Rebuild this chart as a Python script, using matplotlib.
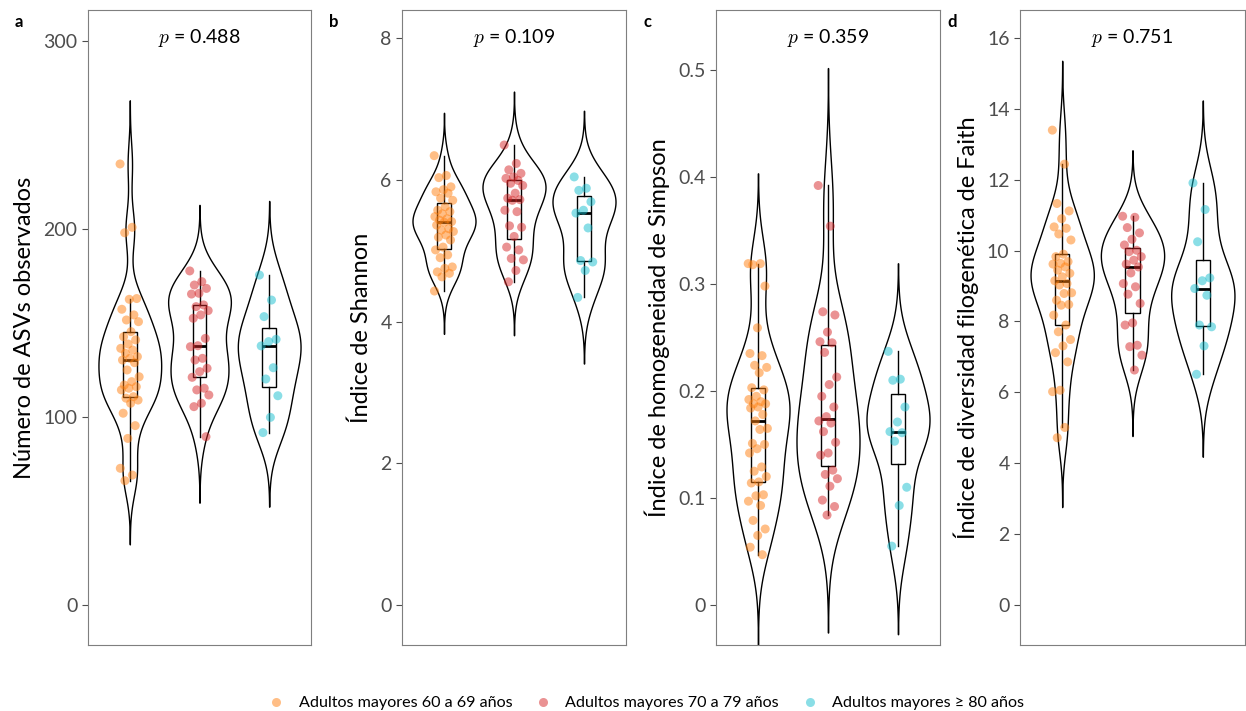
"""Diversidad alfa por grupo de edad: violín + caja + puntos (4 paneles)."""
import numpy as np
import matplotlib
matplotlib.use("Agg")
import matplotlib.pyplot as plt
from matplotlib.lines import Line2D

plt.rcParams["font.family"] = ["Lato", "DejaVu Sans"]
plt.rcParams["mathtext.fontset"] = "cm"

GROUPS = ["Adultos mayores 60 a 69 años",
          "Adultos mayores 70 a 79 años",
          "Adultos mayores \u2265 80 años"]
COLORS = ["#FF7F0E", "#D62728", "#17BECF"]

# ── a: ASVs observados ──
asv_60 = [234.6, 200.9, 198, 163, 162.6, 157.3, 154.3, 151.6, 150.7, 145.4, 142.7,
          141, 138.8, 136.5, 135.6, 133.9, 132.1, 131.2, 130.3, 128.9, 125, 121.4,
          118.8, 117, 116.1, 115.3, 114.4, 110.8, 110, 109, 107.3, 102, 95.4, 88.6,
          72.7, 69.1, 66.1]
asv_70 = [177.7, 172, 170.2, 168.4, 165.8, 165.4, 159.6, 158.7, 156.6, 154.3, 152.5,
          141.8, 137.9, 137.4, 131.2, 130.3, 125.9, 124.1, 121.1, 115.3, 114.4, 111.7,
          107.3, 105.5, 89.5]
asv_80 = [175.5, 162.2, 153.4, 141.3, 140.1, 137.8, 126.2, 120.2, 111.3, 99.8, 91.7]

# ── b: Shannon ──
shannon_60 = [6.34, 6.06, 6.03, 5.90, 5.86, 5.83, 5.81, 5.74, 5.71, 5.62, 5.57, 5.55,
              5.52, 5.48, 5.45, 5.43, 5.41, 5.40, 5.36, 5.31, 5.29, 5.27, 5.22, 5.19,
              5.15, 5.05, 5.01, 4.94, 4.90, 4.77, 4.75, 4.70, 4.68, 4.63, 4.43]
shannon_70 = [6.49, 6.23, 6.14, 6.09, 6.04, 6.02, 5.99, 5.95, 5.92, 5.81, 5.74, 5.72,
              5.71, 5.57, 5.55, 5.35, 5.33, 5.20, 5.05, 5.01, 4.89, 4.87, 4.72, 4.56]
shannon_80 = [6.04, 5.88, 5.85, 5.69, 5.57, 5.53, 5.32, 4.86, 4.84, 4.72, 4.34]

# ── c: homogeneidad de Simpson ──
simpson_60 = [0.319, 0.319, 0.318, 0.298, 0.259, 0.235, 0.233, 0.224, 0.222, 0.217,
              0.203, 0.201, 0.195, 0.192, 0.190, 0.188, 0.188, 0.185, 0.184, 0.178,
              0.172, 0.165, 0.164, 0.151, 0.150, 0.146, 0.142, 0.129, 0.125, 0.120,
              0.115, 0.114, 0.103, 0.102, 0.097, 0.093, 0.079, 0.071, 0.065, 0.054,
              0.047]
simpson_70 = [0.392, 0.354, 0.274, 0.271, 0.255, 0.246, 0.245, 0.236, 0.213, 0.206,
              0.195, 0.185, 0.176, 0.172, 0.170, 0.162, 0.152, 0.142, 0.140, 0.126,
              0.122, 0.118, 0.111, 0.098, 0.092, 0.084]
simpson_80 = [0.237, 0.211, 0.210, 0.185, 0.171, 0.162, 0.161, 0.153, 0.110, 0.093, 0.055]

# ── d: diversidad filogenética de Faith ──
faith_60 = [13.40, 12.44, 11.33, 11.12, 10.90, 10.67, 10.63, 10.47, 10.30, 9.90, 9.83,
            9.69, 9.64, 9.62, 9.54, 9.45, 9.36, 9.26, 9.15, 9.07, 9.03, 8.81, 8.79,
            8.60, 8.48, 8.46, 8.18, 7.90, 7.71, 7.49, 7.31, 7.12, 6.86, 6.06, 6.02,
            5.01, 4.72]
faith_70 = [10.97, 10.94, 10.65, 10.50, 10.32, 10.16, 10.01, 9.97, 9.83, 9.73, 9.62,
            9.54, 9.37, 9.07, 8.98, 8.77, 8.51, 7.96, 7.90, 7.33, 7.29, 7.05, 6.63]
faith_80 = [11.91, 11.16, 10.25, 9.23, 9.15, 8.93, 8.74, 7.90, 7.85, 7.31, 6.51]

PANELS = [
    ("a", "Número de ASVs observados", [asv_60, asv_70, asv_80], "0.488",
     [0, 100, 200, 300], ["0", "100", "200", "300"], (-21.3, 316.5)),
    ("b", "Índice de Shannon", [shannon_60, shannon_70, shannon_80], "0.109",
     [0, 2, 4, 6, 8], ["0", "2", "4", "6", "8"], (-0.564, 8.395)),
    ("c", "Índice de homogeneidad de Simpson", [simpson_60, simpson_70, simpson_80], "0.359",
     [0, 0.1, 0.2, 0.3, 0.4, 0.5], ["0", "0.1", "0.2", "0.3", "0.4", "0.5"], (-0.0374, 0.556)),
    ("d", "Índice de diversidad filogenética de Faith", [faith_60, faith_70, faith_80], "0.751",
     list(range(0, 17, 2)), [str(v) for v in range(0, 17, 2)], (-1.129, 16.79)),
]

# axes boxes in figure pixels (left, right)
AX_X = [(88, 311), (402, 626), (716, 940), (1020, 1245)]
W, H = 1246, 711
TOP, BOTTOM = 10, 645


def _nrd0(x):
    sd = x.std(ddof=1)
    q75, q25 = np.percentile(x, [75, 25])
    lo = min(sd, (q75 - q25) / 1.34)
    if lo <= 0:
        lo = sd
    return 0.9 * lo * len(x) ** -0.2


def _violin_stats(x, n=512):
    """Gaussian KDE like ggplot's stat_ydensity(trim = FALSE)."""
    x = np.asarray(x, dtype=float)
    bw = _nrd0(x)
    coords = np.linspace(x.min() - 3 * bw, x.max() + 3 * bw, n)
    z = (coords[:, None] - x[None, :]) / bw
    dens = np.exp(-0.5 * z ** 2).sum(axis=1) / (len(x) * bw * np.sqrt(2 * np.pi))
    return dict(coords=coords, vals=dens, mean=x.mean(), median=np.median(x),
                min=x.min(), max=x.max())


def _jitter(n, width=0.28):
    # deterministic horizontal spread (position only, not data)
    return (((np.arange(n) * 0.6180339887) % 1.0) - 0.5) * width


fig = plt.figure(figsize=(W / 100, H / 100), dpi=100)
positions = [1, 2, 3]

for (letter, ylabel, groups, pval, ticks, ticklabels, ylim), (x0, x1) in zip(PANELS, AX_X):
    ax = fig.add_axes([x0 / W, 1 - BOTTOM / H, (x1 - x0) / W, (BOTTOM - TOP) / H])

    vp = ax.violin([_violin_stats(g) for g in groups], positions=positions, widths=0.9,
                   showmeans=False, showextrema=False, showmedians=False)
    for body in vp["bodies"]:
        body.set_facecolor("white")
        body.set_edgecolor("black")
        body.set_linewidth(1.0)
        body.set_alpha(1)
        body.set_zorder(1)

    ax.boxplot(groups, positions=positions, widths=0.2, showfliers=False, showcaps=False,
               patch_artist=True, whis=1.5, zorder=2,
               boxprops=dict(facecolor="white", edgecolor="black", linewidth=1.0),
               medianprops=dict(color="black", linewidth=2.0),
               whiskerprops=dict(color="black", linewidth=1.0))

    for pos, g, c in zip(positions, groups, COLORS):
        g = np.asarray(g)
        ax.scatter(pos + _jitter(len(g)), g, s=42, color=c, alpha=0.5,
                   edgecolors="none", zorder=4)

    ax.set_xlim(0.4, 3.6)
    ax.set_ylim(*ylim)
    ax.set_xticks([])
    ax.set_yticks(ticks)
    ax.set_yticklabels(ticklabels)
    ax.tick_params(axis="y", direction="out", length=4, width=0.8, colors="#4D4D4D",
                   labelsize=14, labelcolor="#4D4D4D")
    for sp in ax.spines.values():
        sp.set_color("#7F7F7F")
        sp.set_linewidth(0.8)
    ax.set_ylabel(ylabel, fontsize=17, labelpad=6)

    ax.text(0.5, 0.956, r"$p$ = " + pval, transform=ax.transAxes, ha="center",
            va="center", fontsize=14)
    fig.text((x0 - 73) / W, 1 - 22 / H, letter, fontsize=12, fontweight="bold",
             ha="left", va="center")

handles = [Line2D([0], [0], marker="o", linestyle="none", markersize=6.5,
                  markerfacecolor=c, markeredgecolor="none", alpha=0.5) for c in COLORS]
fig.legend(handles, GROUPS, loc="center", bbox_to_anchor=(642 / W, 1 - 703 / H),
           ncol=3, frameon=False, fontsize=11.6, handletextpad=0.4, columnspacing=0.9)

fig.savefig("out.png", dpi=100)
